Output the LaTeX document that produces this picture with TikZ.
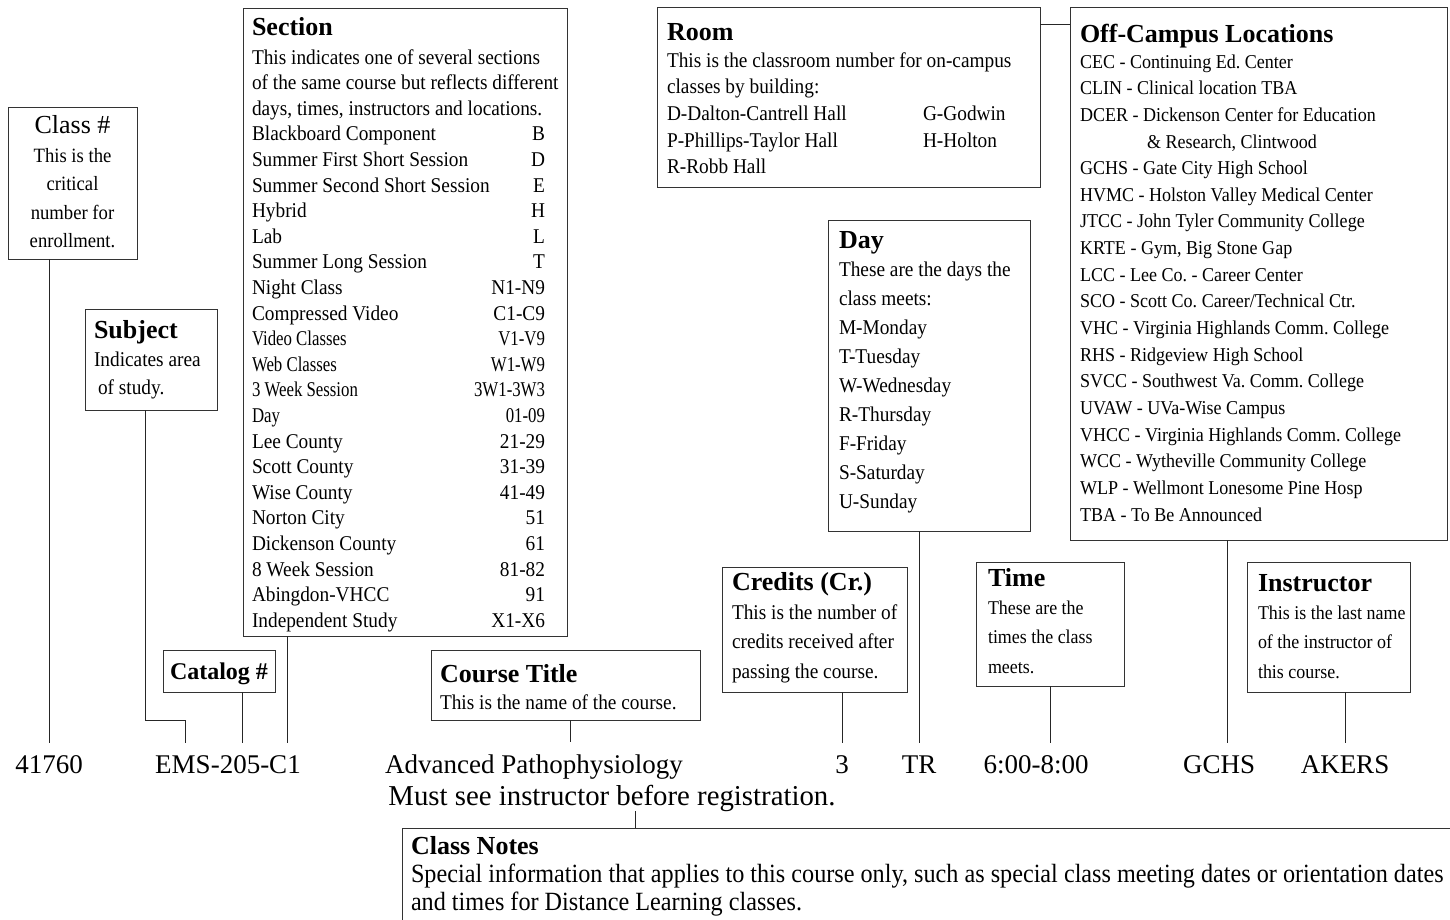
\documentclass[tikz,border=0pt]{standalone}
\usepackage{fontspec}
\setmainfont{Liberation Serif}
\newfontfamily\narrowfont{Liberation Serif}[FakeStretch=0.92]
\newfontfamily\tightfont{Liberation Serif}[FakeStretch=0.8]
\usetikzlibrary{positioning}

\newcommand{\bodyfont}[2]{\narrowfont\fontsize{#1}{#2}\selectfont}
\newcommand{\boxtitle}[3]{{\fontsize{26}{26}\selectfont\bfseries\rule{0pt}{#1pt}#3\par}\vspace{#2pt}}
\newcommand{\sitem}[2]{\makebox[293pt][l]{#1\hfill #2}}
\newcommand{\tight}[1]{{\tightfont\fontsize{21}{25.6}\selectfont #1}}

\tikzset{
    infobox/.style={draw=black!80, line width=1pt, anchor=north west, inner xsep=9pt, inner ysep=0pt, outer sep=0pt},
    entry/.style={anchor=base, inner sep=0pt, outer ysep=12pt, font=\fontsize{27}{27}\selectfont},
    link/.style={draw=black!85, line width=1pt}
}

\begin{document}
\frenchspacing
\begin{tikzpicture}[x=1pt,y=-1pt]
    \useasboundingbox (0,0) rectangle (1450,919);

    % Explanation boxes
    \node [infobox] (classno) at (8,107) {\parbox[t][152pt][t]{111pt}{\centering
        {\fontsize{26}{26}\selectfont\rule{0pt}{26pt}Class \#\par}\vspace{0.5pt}
        \bodyfont{20.3}{28.5}This is the\\ critical\\ number for\\ enrollment.}};
    \node [infobox] (subject) at (85,309) {\parbox[t][101pt][t]{114pt}{\raggedright
        \boxtitle{29}{0}{Subject}
        \bodyfont{21}{28}Indicates area\\ \hspace*{4pt}of study.}};
    \node [infobox, inner xsep=2pt] (catalog) at (163,650) {\parbox[t][42pt][t]{108pt}{\centering
        \fontsize{24}{24}\selectfont\bfseries\rule{0pt}{29pt}\mbox{Catalog \#}}};
    \node [infobox] (section) at (243,8) {\parbox[t][628pt][t]{306pt}{\raggedright
        \boxtitle{27}{3.4}{Section}
        \bodyfont{21}{25.6}\mbox{This indicates one of several sections}\\
        \mbox{of the same course but reflects different}\\
        \mbox{days, times, instructors and locations.}\\
        \sitem{Blackboard Component}{B}\\
        \sitem{Summer First Short Session}{D}\\
        \sitem{Summer Second Short Session}{E}\\
        \sitem{Hybrid}{H}\\
        \sitem{Lab}{L}\\
        \sitem{Summer Long Session}{T}\\
        \sitem{Night Class}{N1-N9}\\
        \sitem{Compressed Video}{C1-C9}\\
        \sitem{\tight{Video Classes}}{\tight{V1-V9}}\\
        \sitem{\tight{Web Classes}}{\tight{W1-W9}}\\
        \sitem{\tight{3 Week Session}}{\tight{3W1-3W3}}\\
        \sitem{\tight{Day}}{\tight{01-09}}\\
        \sitem{Lee County}{21-29}\\
        \sitem{Scott County}{31-39}\\
        \sitem{Wise County}{41-49}\\
        \sitem{Norton City}{51}\\
        \sitem{Dickenson County}{61}\\
        \sitem{8 Week Session}{81-82}\\
        \sitem{Abingdon-VHCC}{91}\\
        \sitem{Independent Study}{X1-X6}}};
    \node [infobox] (coursetitle) at (431,650) {\parbox[t][70pt][t]{251pt}{\raggedright
        \boxtitle{32}{2}{Course Title}
        \bodyfont{21}{25}\mbox{This is the name of the course.}}};
    \node [infobox, inner xsep=10pt] (room) at (657,7) {\parbox[t][180pt][t]{363pt}{\raggedright
        \boxtitle{33}{0.3}{Room}
        \bodyfont{21}{26.7}\mbox{This is the classroom number for on-campus}\\
        classes by building:\\
        \makebox[256pt][l]{D-Dalton-Cantrell Hall}G-Godwin\\
        \makebox[256pt][l]{P-Phillips-Taylor Hall}H-Holton\\
        R-Robb Hall}};
    \node [infobox, inner xsep=10pt] (offcampus) at (1070,7) {\parbox[t][533pt][t]{357pt}{\raggedright
        \boxtitle{35}{-0.6}{Off-Campus Locations}
        \bodyfont{19.6}{26.65}CEC - Continuing Ed. Center\\
        CLIN - Clinical location TBA\\
        DCER - Dickenson Center for Education\\
        \hspace*{67pt}\& Research, Clintwood\\
        GCHS - Gate City High School\\
        HVMC - Holston Valley Medical Center\\
        JTCC - John Tyler Community College\\
        KRTE - Gym, Big Stone Gap\\
        LCC - Lee Co. - Career Center\\
        SCO - Scott Co. Career/Technical Ctr.\\
        VHC - Virginia Highlands Comm. College\\
        RHS - Ridgeview High School\\
        SVCC - Southwest Va. Comm. College\\
        UVAW - UVa-Wise Campus\\
        \mbox{VHCC - Virginia Highlands Comm. College}\\
        WCC - Wytheville Community College\\
        WLP - Wellmont Lonesome Pine Hosp\\
        TBA - To Be Announced}};
    \node [infobox, inner xsep=11pt] (day) at (828,220) {\parbox[t][311pt][t]{180pt}{\raggedright
        \boxtitle{28}{-1}{Day}
        \bodyfont{21}{29}These are the days the\\
        class meets:\\ M-Monday\\ T-Tuesday\\ W-Wednesday\\ R-Thursday\\
        F-Friday\\ S-Saturday\\ U-Sunday}};
    \node [infobox, inner xsep=10pt] (credits) at (722,567) {\parbox[t][125pt][t]{165pt}{\raggedright
        \boxtitle{23}{-0.5}{Credits (Cr.)}
        \bodyfont{21}{29.5}\mbox{This is the number of}\\
        \mbox{credits received after}\\ passing the course.}};
    \node [infobox, inner xsep=12pt] (time) at (976,562) {\parbox[t][124pt][t]{124pt}{\raggedright
        \boxtitle{24}{-1.5}{Time}
        \bodyfont{19.5}{29.5}These are the\\ times the class\\ meets.}};
    \node [infobox, inner xsep=11pt] (instructor) at (1247,562) {\parbox[t][130pt][t]{141pt}{\raggedright
        \boxtitle{29}{-1.5}{Instructor}
        \bodyfont{19.5}{29.5}\mbox{This is the last name}\\ of the instructor of\\ this course.}};
    \node [infobox] (notes) at (402,828) {\parbox[t][110pt][t]{1060pt}{\raggedright
        \boxtitle{26}{0}{Class Notes}
        \bodyfont{26.3}{28}\mbox{Special information that applies to this course only, such as special class meeting dates or orientation dates}\\
        and times for Distance Learning classes.}};

    % Schedule line
    \node [entry] (cls) at (49,773) {41760};
    \node [entry] (secno) at (228,773) {EMS-205-C1};
    \node [entry] (ttl) at (534,773) {Advanced Pathophysiology};
    \node [entry, outer ysep=0pt, font=\fontsize{28.8}{28.8}\selectfont] (must) at (612,805) {Must see instructor before registration.};
    \node [entry] (cr) at (842,773) {3};
    \node [entry] (dy) at (919,773) {TR};
    \node [entry] (tm) at (1036,773) {6:00-8:00};
    \node [entry] (loc) at (1219,773) {GCHS};
    \node [entry] (ins) at (1345,773) {AKERS};

    % Connectors
    \path [link] (cls.north |- classno.south) -- (cls.north);
    \path [link] ([xshift=-6pt]subject.south) |- ([xshift=-43pt,yshift=23pt]secno.north) -- ([xshift=-43pt]secno.north);
    \path [link] ([xshift=23pt]catalog.south) -- ([xshift=23pt]catalog.south |- secno.north);
    \path [link] ([xshift=44pt]section.south west) -- ([xshift=44pt]section.south west |- secno.north);
    \path [link] ([xshift=5pt]coursetitle.south) -- ([xshift=5pt]coursetitle.south |- ttl.north);
    \path [link] ([xshift=233pt]notes.north west) -- ([xshift=233pt]notes.north west |- must.south);
    \path [link] ([yshift=-17pt]room.north east) -- ([yshift=-17pt]offcampus.north west);
    \path [link] (cr.north |- credits.south) -- (cr.north);
    \path [link] (dy.north |- day.south) -- (dy.north);
    \path [link] (time.south) -- (time.south |- tm.north);
    \path [link] ([xshift=8pt]loc.north |- offcampus.south) -- ([xshift=8pt]loc.north);
    \path [link] (ins.north |- instructor.south) -- (ins.north);
\end{tikzpicture}
\end{document}
